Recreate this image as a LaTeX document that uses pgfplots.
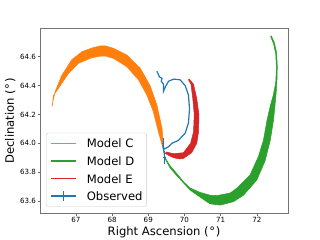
\documentclass[border=0pt]{standalone}
\usepackage{pgfplots}
\pgfplotsset{compat=1.18}
\usepackage{fontspec}
\setmainfont{DejaVu Sans}
\definecolor{modelc}{HTML}{FF7F0E}
\definecolor{modeld}{HTML}{2CA02C}
\definecolor{modele}{HTML}{D62728}
\definecolor{obsblue}{HTML}{1F77B4}
\begin{document}
\begin{tikzpicture}
\begin{axis}[
  scale only axis, width=248bp, height=185bp,
  xmin=66.01, xmax=72.86, ymin=63.515, ymax=64.797,
  xtick={67,68,69,70,71,72}, ytick={63.6,63.8,64.0,64.2,64.4,64.6},
  yticklabel style={/pgf/number format/.cd, fixed, precision=1, fixed zerofill},
  /pgf/number format/assume math mode=true,
  tick label style={font=\fontsize{7.1bp}{8.5bp}\selectfont, inner sep=1.5bp},
  xtick pos=left, ytick pos=left, tick align=outside,
  major tick length=2.4bp,
  every tick/.style={black!60, line width=0.6bp},
  axis line style={black!55, line width=0.8bp},
  label style={font=\fontsize{11.6bp}{14bp}\selectfont, inner sep=0pt},
  xlabel={Right Ascension (\kern0.6bp°\kern0.6bp)},
  ylabel={Declination (\kern0.6bp°\kern0.6bp)},
  xlabel style={at={(axis description cs:0.5,-0.072)}, anchor=north},
  ylabel style={at={(axis description cs:-0.098,0.5)}, anchor=south},
  legend image code/.code={\draw[#1, line width=1.6bp] (0bp,0bp) -- (25bp,0bp);},
  legend style={at={(axis description cs:0.0242,0.0357)}, anchor=south west,
    draw=black!20, rounded corners=2bp, fill=white, fill opacity=0.8, text opacity=1,
    font=\fontsize{11.6bp}{14bp}\selectfont, inner xsep=4bp, inner ysep=3.6bp,
    nodes={inner sep=0pt, text height=11.4bp, text depth=2.1bp},
    row sep=4.1bp,
    /tikz/every odd column/.append style={column sep=10bp}},
  legend cell align=left,
]
% Model C (orange band)
\addplot[fill=modelc, draw=modelc, line width=0.5bp, forget plot] coordinates {
(66.34,64.26) (66.43,64.36) (66.61,64.47) (66.89,64.58) (67.17,64.635) (67.44,64.66)
(67.67,64.675) (67.81,64.676) (68.04,64.658) (68.41,64.612) (68.78,64.52) (69.05,64.40)
(69.24,64.265) (69.38,64.104) (69.42,63.99) (69.43,63.95)
(69.38,63.99) (69.28,64.08) (69.14,64.22) (68.96,64.335) (68.73,64.44) (68.41,64.53)
(68.04,64.589) (67.81,64.605) (67.67,64.604) (67.44,64.593) (67.07,64.554) (66.80,64.485)
(66.57,64.40) (66.38,64.33) (66.35,64.26) (66.34,64.26)
};
% Model D (green band)
\addplot[fill=modeld, draw=modeld, line width=0.5bp, forget plot] coordinates {
(69.44,63.91) (69.60,63.845) (69.79,63.79) (69.97,63.735) (70.16,63.69) (70.43,63.66)
(70.71,63.64) (70.90,63.638) (71.26,63.655) (71.45,63.69) (71.81,63.78) (72.04,63.907)
(72.18,64.02) (72.28,64.16) (72.37,64.26) (72.45,64.33) (72.52,64.42) (72.54,64.52)
(72.52,64.62) (72.46,64.69) (72.38,64.74)
(72.40,64.745) (72.48,64.70) (72.545,64.63) (72.565,64.53) (72.555,64.43) (72.53,64.34)
(72.50,64.26) (72.46,64.16) (72.37,64.02) (72.23,63.88) (72.00,63.746) (71.63,63.64)
(71.35,63.595) (70.99,63.572) (70.71,63.58) (70.53,63.61) (70.16,63.675) (69.79,63.775)
(69.60,63.83) (69.46,63.895) (69.44,63.91)
};
% Model E (red band)
\addplot[fill=modele, draw=modele, line width=0.5bp, forget plot] coordinates {
(69.47,63.93) (69.55,63.918) (69.70,63.90) (69.85,63.892) (69.97,63.895) (70.20,63.935)
(70.34,64.00) (70.39,64.08) (70.40,64.20) (70.34,64.31) (70.25,64.41) (70.13,64.445)
(70.11,64.44) (70.18,64.41) (70.23,64.31) (70.27,64.20) (70.25,64.08) (70.17,64.00)
(69.97,63.935) (69.70,63.928) (69.50,63.94) (69.47,63.93)
};
% Observed track (three pieces)
\addplot[draw=obsblue, line width=1.2bp, mark=none, forget plot] table[row sep=\\] {
x y\\ 69.46 63.90\\ 69.40 63.99\\ 69.44 63.96\\ 69.50 63.968\\ 69.56 63.976\\ 69.65 64.00\\
69.83 64.02\\ 70.02 64.07\\ 70.11 64.14\\ 70.14 64.24\\ 70.11 64.335\\
};
\addplot[draw=obsblue, line width=1.2bp, mark=none, forget plot] table[row sep=\\] {
x y\\ 70.11 64.335\\ 70.02 64.40\\ 69.88 64.44\\ 69.70 64.445\\ 69.56 64.43\\ 69.47 64.39\\
};
\addplot[draw=obsblue, line width=1.2bp, mark=none, forget plot] table[row sep=\\] {
x y\\ 69.47 64.39\\ 69.42 64.36\\ 69.42 64.41\\ 69.36 64.43\\ 69.38 64.45\\ 69.31 64.46\\ 69.24 64.50\\
};
% Observed uncertainties
\addplot[draw=obsblue, line width=1bp, mark=none, forget plot] coordinates {(69.42,64.36) (69.42,64.41)};
\addplot[draw=obsblue, line width=1bp, mark=none, forget plot] coordinates {(69.41,63.96) (69.41,64.04)};
\addplot[draw=obsblue, line width=1bp, mark=none, forget plot] coordinates {(69.38,64.00) (69.44,64.00)};
\addplot[draw=obsblue, line width=1bp, mark=none, forget plot] coordinates {(69.46,63.855) (69.46,63.945)};
\addplot[draw=obsblue, line width=1bp, mark=none, forget plot] coordinates {(69.42,63.90) (69.50,63.90)};
\addlegendimage{draw=modelc}
\addlegendentry{Model C}
\addlegendimage{draw=modeld}
\addlegendentry{Model D}
\addlegendimage{draw=modele}
\addlegendentry{Model E}
\addlegendimage{legend image code/.code={\draw[obsblue, line width=1.6bp] (0bp,0bp) -- (25bp,0bp); \draw[obsblue, line width=1.6bp] (12.5bp,-5bp) -- (12.5bp,5bp);}}
\addlegendentry{Observed}
\end{axis}
\path ([shift={(-40bp,-26.7bp)}]current axis.south west) rectangle ([shift={(32bp,28.3bp)}]current axis.north east);
\end{tikzpicture}
\end{document}
